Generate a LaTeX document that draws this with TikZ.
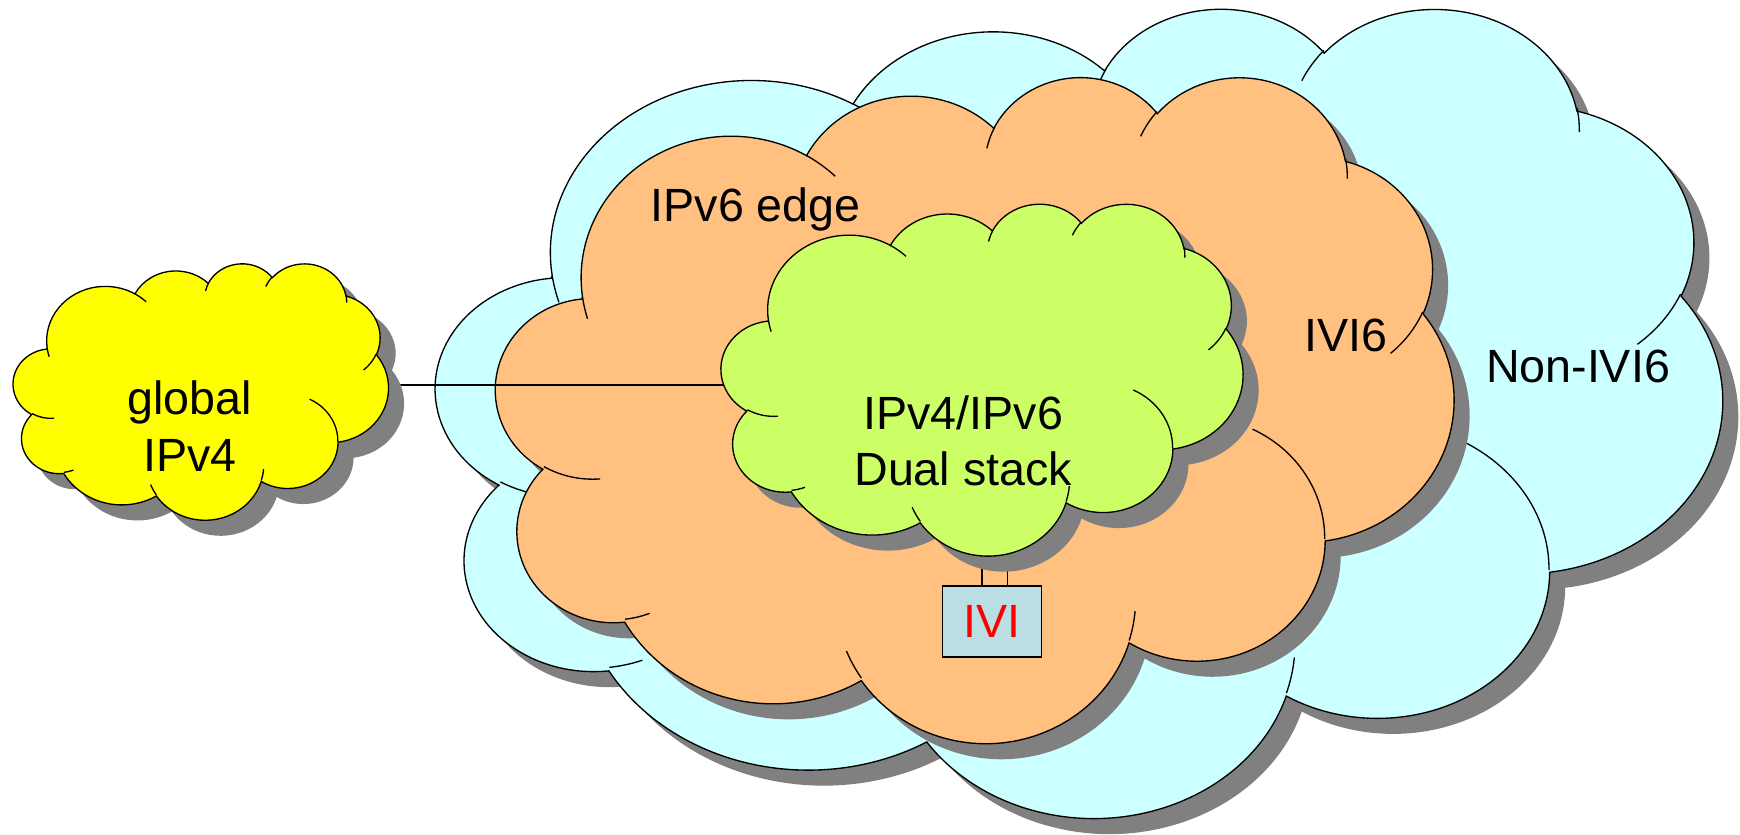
\documentclass[tikz,border=0pt]{standalone}
\usepackage{fontspec}
\setmainfont{Liberation Sans}

\tikzset{every picture/.style={line width=0.75pt}}
\tikzset{
	cloud shadow/.style={fill={rgb, 255:red, 128; green, 128; blue, 128 }},
	cloud line/.style={draw=black, line width=0.9pt},
	label text/.style={font=\fontsize{31.5}{38}\selectfont, align=center, inner sep=0pt},
	ivi box/.style={draw, line width=1pt, fill={rgb, 255:red, 185; green, 222; blue, 228 }, text={rgb, 255:red, 255; green, 0; blue, 0 }, minimum width=66.75pt, minimum height=48pt, inner sep=0pt, font=\fontsize{31.5}{38}\selectfont}}

% one lobe of the cloud outline
\newcommand\carc[4]{arc[x radius=#1, y radius=#2, start angle={atan2(#1*sin(#3),#2*cos(#3))}, delta angle={mod(atan2(#1*sin(#3+#4),#2*cos(#3+#4))-atan2(#1*sin(#3),#2*cos(#3))+720,360)}]}
% outline, in a 43.2 x 43.2 box
\newcommand\cloudbody{(3.900,14.370)
	\carc{6.753}{9.190}{-190.4875}{123.7805}
	\carc{5.333}{7.267}{-144.1024}{89.9452}
	\carc{4.365}{5.945}{-145.8079}{99.7230}
	\carc{4.857}{6.595}{-130.9861}{117.2417}
	\carc{5.333}{7.273}{-78.7089}{109.0269}
	\carc{6.775}{9.220}{-46.2673}{130.2690}
	\carc{5.785}{7.867}{0.6250}{114.0333}
	\carc{6.752}{9.215}{22.4516}{115.1726}
	\carc{7.720}{10.543}{66.2426}{75.7110}
	\carc{4.360}{5.918}{-274.9421}{146.7356}
	\carc{4.345}{5.945}{-246.8285}{152.5189} -- cycle}
% small inner arcs
\newcommand\cloudinner{
	(4.693,26.177) \carc{4.345}{5.945}{86.7420}{26.4295}
	(6.928,34.899) \carc{4.360}{5.918}{73.6105}{11.4475}
	(16.478,39.090) \carc{6.752}{9.215}{137.6242}{14.0811}
	(28.827,34.751) \carc{6.752}{9.215}{6.4533}{15.9984}
	(34.129,22.954) \carc{5.785}{7.867}{-70.2924}{70.9174}
	(41.798,15.354) \carc{5.333}{7.273}{30.3180}{27.7515}
	(38.324,5.426) \carc{4.857}{6.595}{-13.7443}{14.8589}
	(29.078,3.952) \carc{4.857}{6.595}{-149.1815}{18.1954}
	(22.141,4.720) \carc{4.365}{5.945}{-163.4943}{17.6864}
	(14.000,5.192) \carc{6.753}{9.190}{-66.7070}{12.3194}
	(4.127,15.789) \carc{6.753}{9.190}{157.6544}{11.8582}}
% #1,#2 top left, #3 width, #4 height, #5 fill
\newcommand\netcloud[5]{
	\begin{scope}[shift={(#1+14,#2+14)}, xscale=#3/43.2, yscale=#4/43.2]
		\fill [cloud shadow] \cloudbody;
	\end{scope}
	\begin{scope}[shift={(#1,#2)}, xscale=#3/43.2, yscale=#4/43.2]
		\filldraw [cloud line, fill=#5] \cloudbody;
		\draw [cloud line] \cloudinner;
	\end{scope}}

\begin{document}
\begin{tikzpicture}[x=0.75pt,y=0.75pt,yscale=-1,xscale=1]
	\useasboundingbox (0,0) rectangle (1568,752);

	%Shape: Cloud (Non-IVI6)
	\netcloud{393}{6}{1159}{729}{{rgb, 255:red, 204; green, 255; blue, 255 }}
	%Shape: Cloud (IVI6)
	\netcloud{447}{68}{863}{600}{{rgb, 255:red, 255; green, 192; blue, 128 }}

	\coordinate (v4edge) at (350,347);
	\coordinate (dsedge) at (662,347);
	\coordinate (dsfootl) at (885,490);
	\coordinate (dsfootr) at (908,490);

	% IVI box
	\node [ivi box] (ivi) at (894,560) {IVI};

	%Straight Lines
	\draw [line width=0.9pt] (v4edge) -- (dsedge);
	%Straight Lines
	\draw [line width=0.9pt] (dsfootl) -- (dsfootl |- ivi.north);
	\draw [line width=0.9pt] (dsfootr) -- (dsfootr |- ivi.north);

	%Shape: Cloud (dual stack)
	\netcloud{650}{183}{470}{317}{{rgb, 255:red, 204; green, 255; blue, 102 }}
	%Shape: Cloud (global IPv4)
	\netcloud{12}{237}{338}{231}{{rgb, 255:red, 255; green, 255; blue, 0 }}

	\node [ivi box] at (ivi) {IVI};

	% Text Node
	\node [label text] (global) at (171,384) {global\\IPv4};
	% Text Node
	\node [label text] (edge) at (681,189) {IPv6 edge};
	% Text Node
	\node [label text] (dual) at (868,397) {IPv4/IPv6\\Dual stack};
	% Text Node
	\node [label text] (ivisix) at (1213,302) {IVI6};
	% Text Node
	\node [label text] (nonivi) at (1422,330) {Non-IVI6};

\end{tikzpicture}
\end{document}
